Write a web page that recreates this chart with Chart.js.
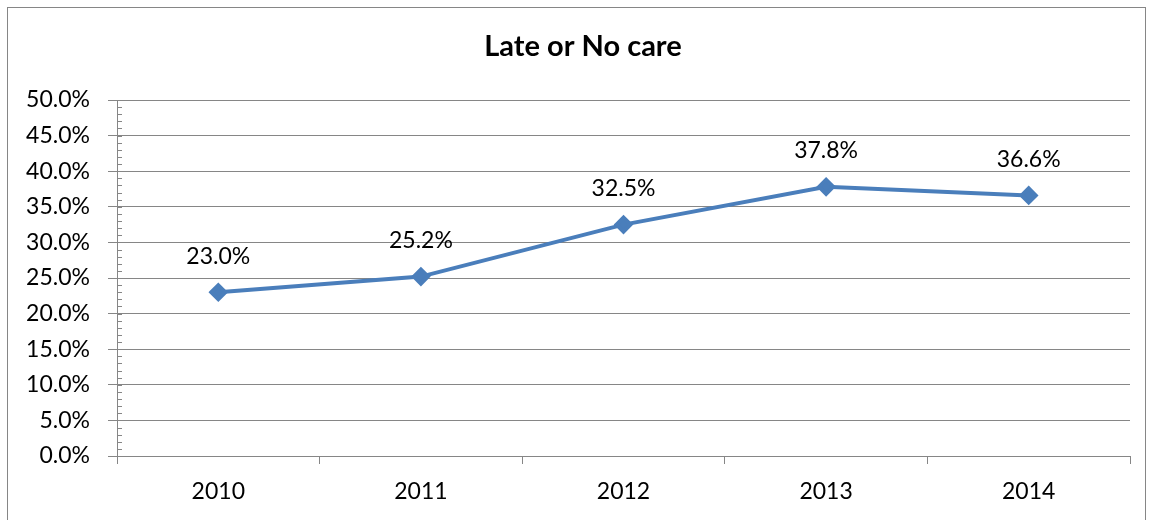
<!DOCTYPE html>
<html>
<head>
<meta charset="utf-8">
<script src="https://cdn.jsdelivr.net/npm/chart.js@4/dist/chart.umd.min.js"></script>
<style>
  body { margin: 0; background: #fff; }
  #wrap { position: relative; width: 1153px; height: 520px; }
  #frame { position: absolute; left: 7px; top: 7px; width: 1139px; height: 520px; border: 1px solid #868686; box-sizing: border-box; pointer-events: none; }
</style>
</head>
<body>
<div id="wrap">
  <canvas id="careChart" width="1153" height="520"></canvas>
  <div id="frame"></div>
</div>
<script>
const years = ['2010', '2011', '2012', '2013', '2014'];
const lateOrNoCare = [0.230, 0.252, 0.325, 0.378, 0.366];
const chartTitle = 'Late or No care';

const fontFamily = 'Lato, "Open Sans", sans-serif';
const gridGray = '#868686';
const lineBlue = '#4A7EBB';

// title drawn by hand so it sits centred on the whole frame, not the plot
const frameTitle = {
    id: 'frameTitle',
    afterDraw(chart) {
        const ctx = chart.ctx;
        ctx.save();
        ctx.font = 'bold 29px ' + fontFamily;
        ctx.fillStyle = '#000';
        ctx.textAlign = 'center';
        ctx.textBaseline = 'middle';
        ctx.fillText(chartTitle, 583, 47);
        ctx.restore();
    }
};

// small ticks every 1% along the y axis, like the excel minor ticks
const minorTicks = {
    id: 'minorTicks',
    afterDraw(chart) {
        const y = chart.scales.y;
        const ctx = chart.ctx;
        ctx.save();
        ctx.strokeStyle = gridGray;
        ctx.lineWidth = 1;
        for (let v = 0; v <= 0.5001; v += 0.01) {
            const py = Math.round(y.getPixelForValue(v)) + 0.5;
            ctx.beginPath();
            ctx.moveTo(y.right, py);
            ctx.lineTo(y.right + 5, py);
            ctx.stroke();
        }
        ctx.restore();
    }
};

// value labels above each point
const pointLabels = {
    id: 'pointLabels',
    afterDatasetsDraw(chart) {
        const ctx = chart.ctx;
        const meta = chart.getDatasetMeta(0);
        ctx.save();
        ctx.font = '23px ' + fontFamily;
        ctx.fillStyle = '#000';
        ctx.textAlign = 'center';
        ctx.textBaseline = 'middle';
        meta.data.forEach((pt, i) => {
            ctx.fillText((lateOrNoCare[i] * 100).toFixed(1) + '%', pt.x, pt.y - 36);
        });
        ctx.restore();
    }
};

const ctx = document.getElementById('careChart').getContext('2d');
new Chart(ctx, {
    type: 'line',
    data: {
        labels: years,
        datasets: [{
            data: lateOrNoCare,
            borderColor: lineBlue,
            backgroundColor: lineBlue,
            borderWidth: 4,
            pointStyle: 'rectRot',
            pointRadius: 7,
            pointHoverRadius: 7,
            tension: 0
        }]
    },
    options: {
        responsive: false,
        animation: false,
        layout: { padding: { left: 0, right: 23, top: 100, bottom: 0 } },
        plugins: {
            legend: { display: false },
            tooltip: { enabled: false },
            title: { display: false }
        },
        scales: {
            x: {
                offset: true,
                grid: { offset: true, drawOnChartArea: false, color: gridGray, tickLength: 8 },
                border: { color: gridGray },
                ticks: { color: '#000', padding: 14, font: { family: fontFamily, size: 23 } },
                afterFit(scale) { scale.height = 64; }
            },
            y: {
                min: 0,
                max: 0.5,
                ticks: {
                    stepSize: 0.05,
                    color: '#000',
                    padding: 18,
                    font: { family: fontFamily, size: 23 },
                    callback: v => (v * 100).toFixed(1) + '%'
                },
                grid: { color: gridGray, tickLength: 9 },
                border: { color: gridGray },
                afterFit(scale) { scale.width = 117; }
            }
        }
    },
    plugins: [frameTitle, minorTicks, pointLabels]
});
</script>
</body>
</html>
